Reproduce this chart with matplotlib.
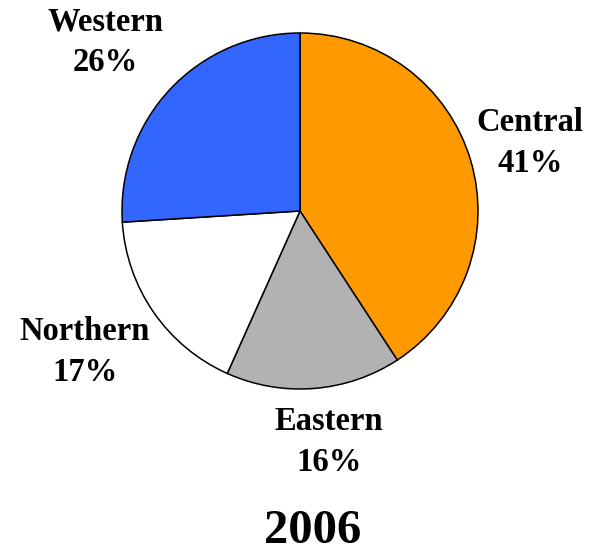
import matplotlib.pyplot as plt

# data
regions = ["Central", "Eastern", "Northern", "Western"]
shares = [40.8, 15.9, 17.3, 26.0]
share_labels = ["41%", "16%", "17%", "26%"]
colors = ["#FF9900", "#B2B2B2", "#FFFFFF", "#3366FF"]
year = "2006"

plt.rcParams['font.family'] = ['Liberation Serif', 'DejaVu Serif']

W, H = 594, 552
fig = plt.figure(figsize=(W / 100, H / 100), dpi=100)
ax = fig.add_axes([0, 0, 1, 1])

# pie in pixel-like coords (y down -> counterclock=True draws clockwise visually)
cx, cy, r = 300, 211, 178
ax.pie(shares, colors=colors, startangle=-90, counterclock=True,
       center=(cx, cy), radius=r, frame=True,
       wedgeprops=dict(edgecolor='black', linewidth=1.1))
ax.set_xlim(0, W)
ax.set_ylim(H, 0)
ax.set_aspect('equal')
ax.axis('off')

# label positions (text block centres)
label_pos = [(530, 143), (329, 442), (85, 352), (105, 42)]
for name, lab, (x, y) in zip(regions, share_labels, label_pos):
    ax.text(x, y, f"{name}\n{lab}", ha='center', va='center',
            fontsize=23.5, fontweight='bold', linespacing=1.4)

ax.text(313, 531, year, ha='center', va='center', fontsize=35, fontweight='bold')

fig.savefig("out.png", dpi=100)
